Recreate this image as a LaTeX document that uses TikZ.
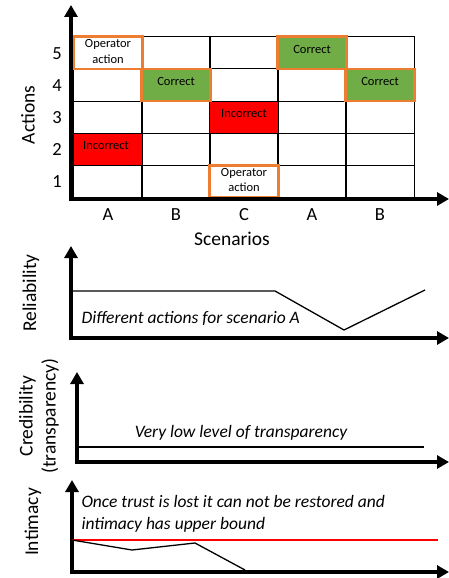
\documentclass[tikz,border=0pt]{standalone}
\usepackage{fontspec}
\setmainfont{Carlito}
\usetikzlibrary{arrows.meta}
\definecolor{okgreen}{HTML}{70AD47}
\definecolor{badred}{HTML}{FF0000}
\definecolor{hiorange}{HTML}{ED7D31}
\tikzset{
  axis/.style={line width=3.5pt, -{Triangle[width=13pt,length=12pt]}},
  cell/.style={draw, line width=0.8pt, minimum width=68.5pt, minimum height=32.1pt,
    inner sep=0pt, outer sep=0pt},
  okcell/.style={cell, fill=okgreen},
  badcell/.style={cell, fill=badred},
  hilite/.style={draw=hiorange, line width=2.6pt},
  celltext/.style={inner sep=0pt, align=center, font=\fontsize{12.5}{15.5}\selectfont},
  axlabel/.style={font=\fontsize{19.5}{23}\selectfont, align=center},
  ticklabel/.style={font=\fontsize{18.5}{20}\selectfont},
  note/.style={font=\fontsize{17.5}{22}\itshape\selectfont, align=left},
  curve/.style={line width=1.3pt},
}
\begin{document}
\begin{tikzpicture}[x=1pt, y=-1pt]
\useasboundingbox (0,0) rectangle (449,578);

% ---------- Actions vs scenarios grid ----------
\foreach \i in {1,...,5}{
  \foreach \j in {1,...,5}{
    \node[cell] (c\i\j) at ({74+68*(\i-0.5)}, {197.3-32.1*(\j-0.5)}) {};
  }
}
% coloured cells
\node[badcell] (r12) at (c12) {};
\node[badcell] (r33) at (c33) {};
\node[okcell, hilite] (g24) at (c24) {};
\node[okcell, hilite] (g45) at (c45) {};
\node[okcell, hilite] (g54) at (c54) {};
\node[cell, fill=white, hilite] (o15) at (c15) {};
\node[cell, fill=white, hilite] (o31) at (c31) {};
% cell texts, set a little above the cell centre
\node[celltext] (tr12) at ([xshift=-2pt, yshift=3.3pt]r12.center) {Incorrect};
\node[celltext] (tr33) at ([yshift=3.3pt]r33.center) {Incorrect};
\node[celltext] (tg24) at ([yshift=3.3pt]g24.center) {Correct};
\node[celltext] (tg45) at ([yshift=3.3pt]g45.center) {Correct};
\node[celltext] (tg54) at ([yshift=3.3pt]g54.center) {Correct};
\node[celltext] (to15) at ([yshift=1.5pt]o15.center) {Operator\\action};
\node[celltext] (to31) at ([yshift=1.5pt]o31.center) {Operator\\action};

% axes
\coordinate (o1) at (71,199);
\coordinate (y1) at (71,5);
\coordinate (x1) at (449,199);
\draw[axis] ([yshift=-1.7pt]o1) -- (y1);
\draw[axis] ([xshift=-1.7pt]o1) -- (x1);

% row numbers
\foreach \j in {1,...,5}{
  \node[ticklabel] (n\j) at (57, {197.3-32.1*(\j-0.5)+0.5}) {\j};
}
% scenario letters
\foreach \i/\s in {1/A,2/B,3/C,4/A,5/B}{
  \node[ticklabel] (s\i) at ({74+68*(\i-0.5)}, 215) {\s};
}
\node[axlabel] (scen) at (232,239) {Scenarios};
\node[axlabel, rotate=90] (act) at (28,115) {Actions};

% ---------- Reliability ----------
\coordinate (o2) at (71,338);
\coordinate (y2) at (71,246);
\coordinate (x2) at (449,338);
\draw[axis] ([yshift=-1.7pt]o2) -- (y2);
\draw[axis] ([xshift=-1.7pt]o2) -- (x2);
\coordinate (p21) at (72,291);
\coordinate (p22) at (275,291);
\coordinate (p23) at (344,330);
\coordinate (p24) at (425,290);
\draw[curve] (p21) -- (p22) -- (p23) -- (p24);
\node[note, anchor=west] (t2) at (78,318) {Different actions for scenario A};
\node[axlabel, rotate=90] (rel) at (31,293) {Reliability};

% ---------- Credibility ----------
\coordinate (o3) at (77,462);
\coordinate (y3) at (77,372);
\coordinate (x3) at (449,462);
\draw[axis] ([yshift=-1.7pt]o3) -- (y3);
\draw[axis] ([xshift=-1.7pt]o3) -- (x3);
\coordinate (p31) at (77,447);
\coordinate (p32) at (424,447);
\draw[curve] (p31) -- (p32);
\node[note] (t3) at (241,433) {Very low level of transparency};
\node[axlabel, rotate=90] (cred) at (39,416) {Credibility\\(transparency)};

% ---------- Intimacy ----------
\coordinate (o4) at (72,572);
\coordinate (y4) at (72,480);
\coordinate (x4) at (449,572);
\draw[axis] ([yshift=-1.7pt]o4) -- (y4);
\draw[axis] ([xshift=-1.7pt]o4) -- (x4);
\coordinate (b1) at (72,540);
\coordinate (b2) at (438,540);
\draw[badred, line width=1.3pt] (b1) -- (b2);
\coordinate (p42) at (132,550);
\coordinate (p43) at (195,543);
\coordinate (p44) at (245,570);
\draw[curve] (b1) -- (p42) -- (p43) -- (p44);
\node[note, anchor=west] (t4) at (78,514) {Once trust is lost it can not be restored and\\intimacy has upper bound};
\node[axlabel, rotate=90] (int) at (33,522) {Intimacy};
\end{tikzpicture}
\end{document}
